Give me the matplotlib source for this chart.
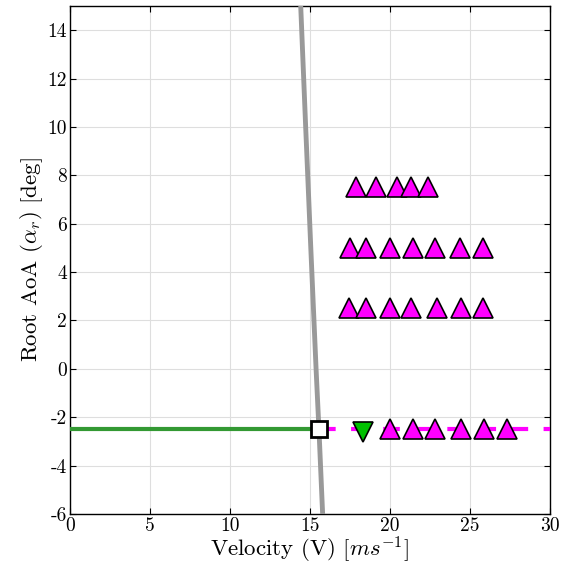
import numpy as np
import matplotlib
matplotlib.use("Agg")
import matplotlib.pyplot as plt
from matplotlib.ticker import MultipleLocator

plt.rcParams['font.family'] = 'serif'
plt.rcParams['font.serif'] = ['cmr10']
plt.rcParams['mathtext.fontset'] = 'cm'
plt.rcParams['axes.unicode_minus'] = False

# boundary (grey curve)
bound_v = [14.42, 14.73, 15.05, 15.38, 15.56, 15.79]
bound_a = [15.0, 10.0, 5.0, 0.0, -2.5, -6.0]

# trim line
trim_v_low = [0.0, 15.58]
trim_v_high = [15.58, 30.0]
trim_a = [-2.5, -2.5]
flutter_v = [15.58]
flutter_a = [-2.5]

# test points (magenta up-triangles)
v_75 = [17.86, 19.1, 20.42, 21.31, 22.39]
v_50 = [17.5, 18.5, 20.0, 21.46, 22.81, 24.38, 25.83]
v_25 = [17.44, 18.5, 20.0, 21.31, 22.92, 24.42, 25.79]
v_m25 = [20.0, 21.46, 22.81, 24.44, 25.9, 27.29]
aoa_levels = [7.5, 5.0, 2.5, -2.5]

# green down-triangle
down_v = [18.29]
down_a = [-2.6]

fig = plt.figure(figsize=(5.69, 5.76), dpi=100)
ax = fig.add_axes([0.123, 0.1076, 0.8436, 0.882])

ax.plot(trim_v_low, trim_a, color=(0.2, 0.6, 0.2), lw=3, zorder=3)
ax.plot(trim_v_high, trim_a, color='#FF00FF', lw=3, dashes=(4, 3.7), zorder=3)
ax.plot(bound_v, bound_a, color=(0.6, 0.6, 0.6), lw=3.5, zorder=4)

for vs, a in zip([v_75, v_50, v_25, v_m25], aoa_levels):
    ax.plot(vs, [a] * len(vs), '^', ms=14, mfc='#FF00FF', mec='k', mew=1.2, zorder=5)
ax.plot(down_v, down_a, 'v', ms=14, mfc='#00C000', mec='k', mew=1.2, zorder=5)
ax.plot(flutter_v, flutter_a, 's', ms=12, mfc='w', mec='k', mew=2, zorder=6)

ax.set_xlim(0, 30)
ax.set_ylim(-6, 15)
ax.xaxis.set_major_locator(MultipleLocator(5))
ax.yaxis.set_major_locator(MultipleLocator(2))
ax.grid(True, color=(0.87, 0.87, 0.87), lw=0.8)
ax.set_axisbelow(True)
ax.tick_params(direction='in', top=True, right=True, labelsize=14, length=4, pad=2)
for s in ax.spines.values():
    s.set_linewidth(1.0)

ax.set_xlabel(r"Velocity (V) $[ms^{-1}]$", fontsize=16.5, labelpad=0)
ax.set_ylabel(r"Root AoA $(\alpha_r)$ [deg]", fontsize=16.5, labelpad=2)

plt.savefig("out.png", dpi=100)
